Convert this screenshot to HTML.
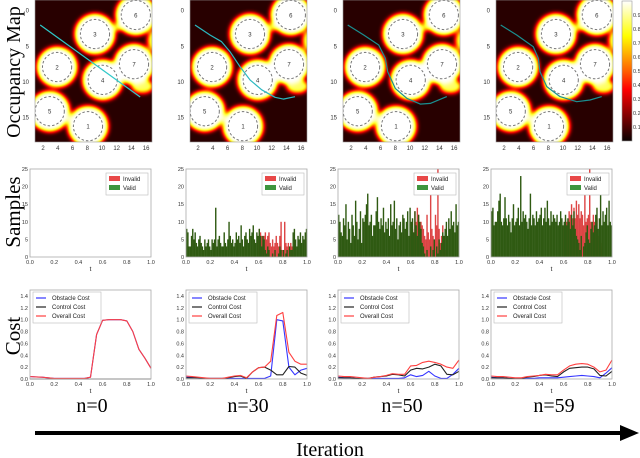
<!DOCTYPE html>
<html><head><meta charset="utf-8"><style>
body{margin:0;background:#fff}
svg{display:block;font-family:"Liberation Sans",sans-serif}
.serif{font-family:"Liberation Serif",serif}
</style></head><body>
<svg id="fig" width="640" height="458" viewBox="0 0 640 458" xmlns="http://www.w3.org/2000/svg">
<defs>
<filter id="hot" x="0" y="0" width="1" height="1" color-interpolation-filters="sRGB">
<feGaussianBlur stdDeviation="2.5"/>
<feComponentTransfer>
<feFuncR type="table" tableValues="0.06 0.37 0.71 1 1 1 1 1 1"/>
<feFuncG type="table" tableValues="0 0 0 0.05 0.38 0.71 1 1 1"/>
<feFuncB type="table" tableValues="0 0 0 0 0 0 0.17 0.58 1"/>
</feComponentTransfer>
</filter>
<linearGradient id="cbar" x1="0" y1="1" x2="0" y2="0">
<stop offset="0" stop-color="#0a0000"/><stop offset="0.37" stop-color="#ff0000"/>
<stop offset="0.5" stop-color="#ff6000"/><stop offset="0.75" stop-color="#ffff00"/>
<stop offset="1" stop-color="#ffffff"/>
</linearGradient>
</defs>
<text class="serif" transform="translate(20,72) rotate(-90)" text-anchor="middle" font-size="20">Occupancy Map</text>
<text class="serif" transform="translate(20,212) rotate(-90)" text-anchor="middle" font-size="21">Samples</text>
<text class="serif" transform="translate(20,336) rotate(-90)" text-anchor="middle" font-size="21">Cost</text>
<text class="serif" x="92" y="412" text-anchor="middle" font-size="20">n=0</text>
<text class="serif" x="248" y="412" text-anchor="middle" font-size="20">n=30</text>
<text class="serif" x="402" y="412" text-anchor="middle" font-size="20">n=50</text>
<text class="serif" x="554" y="412" text-anchor="middle" font-size="20">n=59</text>
<line x1="35" y1="433" x2="622" y2="433" stroke="#000" stroke-width="4"/>
<polygon points="620,425 639,433 620,441" fill="#000"/>
<text class="serif" x="330" y="456" text-anchor="middle" font-size="20">Iteration</text>
</svg>
<script>
const NS="http://www.w3.org/2000/svg";
const svg=document.getElementById('fig');
function mk(tag,attrs,parent){const e=document.createElementNS(NS,tag);for(const k in attrs)e.setAttribute(k,attrs[k]);(parent||svg).appendChild(e);return e;}

// ---------- data ----------
const obstacleIds=[1,2,3,4,5,6,7];
const obstacleX=[8.1,3.9,9.05,10.1,2.9,14.6,14.35];
const obstacleY=[16.2,7.9,3.27,9.7,14.1,0.6,7.5];
const obstacleR=2.0;
const pathX0=[1.6,15.2];
const pathY0=[2.0,12.1];
const pathX30=[1.58,3.62,5.2,6.33,7.7,9.05,10.64,12.45,13.58,15.17];
const pathY30=[2.0,3.41,4.35,5.75,7.85,9.7,11.1,12.15,12.4,12.06];
const pathX50=[1.54,3.71,5.75,6.65,6.97,8.0,9.6,11.4,12.76,15.0];
const pathY50=[2.0,3.41,4.81,6.68,8.55,10.9,12.3,13.1,13.0,12.05];
const pathX59=[1.54,3.71,5.97,6.65,6.88,7.8,9.6,11.87,13.67,15.26];
const pathY59=[2.0,3.41,5.05,6.68,8.55,10.65,12.05,12.76,12.52,12.05];
const mapXTicks=[2,4,6,8,10,12,14,16];
const mapYTicks=[0,5,10,15];
const cbarTicks=[0.1,0.2,0.3,0.4,0.5,0.6,0.7,0.8,0.9];

const validN0=new Array(100).fill(0);
const invalidN0=new Array(100).fill(0);
const validN30=[8,7,3,3,6,8,5,7,4,3,5,6,4,3,2,5,3,4,5,3,2,5,4,5,14,3,5,6,4,3,3,7,4,3,5,10,6,4,5,3,4,7,5,6,4,9,5,3,6,7,5,4,8,6,7,9,5,4,7,6,8,6,3,6,5,2,1,3,2,0,0,1,0,2,0,0,1,3,2,0,2,0,1,2,0,3,2,2,7,8,5,3,6,5,7,4,6,5,7,8];
const invalidN30=[0,0,0,0,0,0,0,0,0,0,0,0,0,0,0,0,0,0,0,0,0,0,0,0,0,0,0,0,0,0,0,0,0,0,0,0,0,0,0,0,0,0,0,0,0,0,0,0,0,0,0,0,0,0,0,0,0,0,0,0,8,7,6,5,6,7,5,6,7,4,3,5,3,4,6,4,3,6,10,2,2,10,4,3,4,3,4,3,3,0,0,0,0,0,0,0,0,0,0,0];
const validN50=[12,10,7,6,11,9,15,5,10,8,4,12,9,6,16,10,5,8,13,4,11,10,12,15,18,9,10,12,6,9,9,13,17,10,8,11,9,14,7,10,8,11,6,15,9,10,16,8,11,5,9,10,7,12,11,8,10,13,6,14,10,11,7,13,9,6,12,10,8,4,3,1,0,2,0,0,3,0,2,5,0,3,1,5,2,4,7,6,8,10,6,11,8,13,9,10,7,15,9,10];
const invalidN50=[0,0,0,0,0,0,0,0,0,0,0,0,0,0,0,0,0,0,0,0,0,0,0,0,0,0,0,0,0,0,0,0,0,0,0,0,0,0,0,0,0,0,0,0,0,0,0,0,0,0,0,0,0,0,0,0,0,0,0,0,6,8,7,13,10,14,12,8,10,9,8,6,5,12,7,5,20,8,6,5,12,9,25,8,4,6,9,3,2,1,0,0,0,0,0,0,0,0,0,0];
const validN59=[13,14,9,10,10,13,16,18,10,9,11,17,11,9,12,10,7,11,15,9,10,11,14,9,23,10,13,11,12,10,8,11,18,9,12,11,9,13,10,11,12,14,9,11,14,10,16,11,9,13,10,12,11,10,12,9,10,13,11,9,10,12,9,11,10,8,12,9,13,8,6,5,4,2,6,0,3,4,7,9,5,4,8,10,7,9,12,14,8,11,18,9,13,10,12,14,9,16,10,9];
const invalidN59=[0,0,0,0,0,0,0,0,0,0,0,0,0,0,0,0,0,0,0,0,0,0,0,0,0,0,0,0,0,0,0,0,0,0,0,0,0,0,0,0,0,0,0,0,0,0,0,0,0,0,0,0,0,0,0,0,0,0,0,0,9,11,10,10,13,12,15,11,14,11,16,12,15,11,13,12,9,20,10,11,12,25,10,9,12,10,8,11,6,5,4,3,0,0,0,0,0,0,0,0];
const sampleYTicks=[0,5,10,15,20,25];
const tTicks=[0,0.2,0.4,0.6,0.8,1.0];

const costT=[0,0.05,0.1,0.15,0.2,0.25,0.3,0.35,0.4,0.45,0.5,0.55,0.6,0.65,0.7,0.75,0.8,0.85,0.9,0.95,1.0];
const obstacleN0=[0.04,0.035,0.03,0.02,0.01,0.01,0.01,0.01,0.01,0.01,0.03,0.75,0.99,1.0,1.0,1.0,0.98,0.8,0.5,0.35,0.18];
const controlN0=[0,0,0,0,0,0,0,0,0,0,0,0,0,0,0,0,0,0,0,0,0];
const overallN0=[0.04,0.035,0.03,0.02,0.01,0.01,0.01,0.01,0.01,0.01,0.03,0.75,0.99,1.0,1.0,1.0,0.98,0.8,0.5,0.35,0.18];
const obstacleN30=[0.03,0.03,0.02,0.01,0.01,0.01,0.01,0.01,0.01,0.01,0.01,0.01,0.01,0.01,0.05,1.0,0.98,0.2,0.07,0.15,0.18];
const controlN30=[0.02,0.02,0.02,0.01,0.01,0.01,0.01,0.02,0.04,0.05,0.01,0.12,0.19,0.2,0.15,0.07,0.07,0.21,0.2,0.1,0.06];
const overallN30=[0.05,0.04,0.03,0.02,0.01,0.01,0.01,0.03,0.05,0.06,0.02,0.12,0.19,0.2,0.3,1.07,1.12,0.45,0.3,0.25,0.25];
const obstacleN50=[0.03,0.02,0.02,0.01,0.01,0.01,0.01,0.01,0.01,0.01,0.01,0.02,0.07,0.04,0.06,0.13,0.05,0.01,0.01,0.08,0.18];
const controlN50=[0.02,0.02,0.02,0.01,0.01,0.01,0.03,0.04,0.05,0.08,0.07,0.05,0.15,0.18,0.17,0.2,0.25,0.22,0.08,0.07,0.13];
const overallN50=[0.05,0.04,0.04,0.03,0.02,0.01,0.03,0.04,0.06,0.09,0.08,0.08,0.22,0.23,0.28,0.3,0.28,0.25,0.2,0.18,0.32];
const obstacleN59=[0.03,0.02,0.02,0.01,0.01,0.01,0.01,0.01,0.02,0.02,0.02,0.02,0.03,0.04,0.05,0.06,0.05,0.04,0.02,0.1,0.19];
const controlN59=[0.02,0.02,0.02,0.01,0.01,0.01,0.03,0.04,0.06,0.07,0.05,0.04,0.12,0.18,0.19,0.2,0.2,0.17,0.06,0.05,0.13];
const overallN59=[0.05,0.04,0.04,0.03,0.02,0.02,0.04,0.05,0.06,0.08,0.07,0.07,0.15,0.22,0.25,0.26,0.25,0.2,0.12,0.15,0.32];
const costYTicks=[0,0.2,0.4,0.6,0.8,1.0,1.2,1.4];

// ---------- layout ----------
const mapLefts=[35,190,343,496];
const mapW=117, mapH=142, mapTop=0;
const axLefts=[30,186,338,491];
const axW=121;
const sTop=169, sBot=257;
const cTop=290, cBot=379;
const pathsX=[pathX0,pathX30,pathX50,pathX59];
const pathsY=[pathY0,pathY30,pathY50,pathY59];
const pathColors=["#2ec8c8","#2ab8c0","#1a8f90","#1a8f90"];
const valids=[validN0,validN30,validN50,validN59];
const invalids=[invalidN0,invalidN30,invalidN50,invalidN59];
const obst=[obstacleN0,obstacleN30,obstacleN50,obstacleN59];
const ctrl=[controlN0,controlN30,controlN50,controlN59];
const over=[overallN0,overallN30,overallN50,overallN59];
const tick='#333';

for(let p=0;p<4;p++){
  const L=mapLefts[p];
  const mx=u=>L+(u-0.9)*7.36;
  const my=v=>mapTop+(v+1.5)*7.13;
  const clip=mk('clipPath',{id:'mc'+p});
  mk('rect',{x:L,y:mapTop,width:mapW,height:mapH},clip);
  const outer=mk('g',{'clip-path':'url(#mc'+p+')'});
  
  
  const g=mk('g',{filter:'url(#hot)'},outer);
  mk('rect',{x:L-10,y:mapTop-10,width:mapW+20,height:mapH+20,fill:'#0a0a0a'},g);
  mk('ellipse',{cx:mx(17.0),cy:my(4.2),rx:6,ry:10,fill:'#d0d0d0'},g);
  mk('ellipse',{cx:mx(12.2),cy:my(2.2),rx:4,ry:5,fill:'#b0b0b0'},g);
  mk('ellipse',{cx:mx(15.5),cy:my(10.6),rx:11,ry:7,fill:'#d0d0d0'},g);
  for(let i=0;i<obstacleIds.length;i++){
    mk('circle',{cx:mx(obstacleX[i]),cy:my(obstacleY[i]),r:20.5,fill:'#fff'},g);
  }
  for(let i=0;i<obstacleIds.length;i++){
    const c=mk('circle',{cx:mx(obstacleX[i]),cy:my(obstacleY[i]),r:obstacleR*7.3,fill:'none',stroke:'#777','stroke-width':1,'stroke-dasharray':'2.5,2'},outer);
    
    
    const t=mk('text',{x:mx(obstacleX[i]),y:my(obstacleY[i])+2.5,'text-anchor':'middle','font-size':6,fill:'#333'},outer);
    t.textContent=obstacleIds[i];
    
    
  }
  let d='';
  for(let i=0;i<pathsX[p].length;i++) d+=(i?'L':'M')+mx(pathsX[p][i]).toFixed(1)+','+my(pathsY[p][i]).toFixed(1);
  const pa=mk('path',{d:d,fill:'none',stroke:pathColors[p],'stroke-width':1.2,'stroke-linejoin':'round'},outer);
  
  
  mk('rect',{x:L,y:mapTop,width:mapW,height:mapH,fill:'none',stroke:'#999','stroke-width':0.6});
  for(const v of mapXTicks){const t=mk('text',{x:mx(v),y:150,'text-anchor':'middle','font-size':6,fill:tick});t.textContent=v;
    
    }
  for(const v of mapYTicks){const t=mk('text',{x:L-6,y:my(v)+2,'text-anchor':'end','font-size':6,fill:tick});t.textContent=v;
    
    }

  // ---------- samples ----------
  const A=axLefts[p];
  const sx=t=>A+t*axW;
  const sy=v=>sBot-v/25*(sBot-sTop);
  const sg=mk('g',{});
  
  
  const n=valids[p].length, bw=axW/n;
  for(let i=0;i<n;i++){
    if(invalids[p][i]>0){const r=mk('rect',{x:sx(i/n),y:sy(invalids[p][i]),width:bw+0.2,height:sBot-sy(invalids[p][i]),fill:'#dd4545'},sg);
      
      }
  }
  for(let i=0;i<n;i++){
    if(valids[p][i]>0){const r=mk('rect',{x:sx(i/n),y:sy(valids[p][i]),width:bw+0.2,height:sBot-sy(valids[p][i]),fill:'#2f5a12'},sg);
      
      }
  }
  mk('rect',{x:A,y:sTop,width:axW,height:sBot-sTop,fill:'none',stroke:'#aaa','stroke-width':0.8});
  for(const v of sampleYTicks){const t=mk('text',{x:A-2,y:sy(v)+2,'text-anchor':'end','font-size':5.5,fill:tick});t.textContent=v;
    
    }
  for(const v of tTicks){const t=mk('text',{x:sx(v),y:sBot+7,'text-anchor':'middle','font-size':5.5,fill:tick});t.textContent=v.toFixed(1);
    
    }
  const st=mk('text',{x:A+axW/2,y:sBot+14,'text-anchor':'middle','font-size':6.5,fill:'#222'});st.textContent='t';
  
  
  const lg=mk('g',{});
  
  
  const lx=A+axW-45;
  mk('rect',{x:lx,y:sTop+4,width:42,height:22,fill:'#fff',stroke:'#bbb','stroke-width':0.6},lg);
  mk('rect',{x:lx+3,y:sTop+7,width:11,height:5,fill:'#e84848'},lg);
  mk('rect',{x:lx+3,y:sTop+16,width:11,height:5,fill:'#3e953e'},lg);
  let t1=mk('text',{x:lx+17,y:sTop+12,'font-size':6,fill:'#222'},lg);t1.textContent='Invalid';
  let t2=mk('text',{x:lx+17,y:sTop+21,'font-size':6,fill:'#222'},lg);t2.textContent='Valid';

  // ---------- cost ----------
  const cy=v=>cBot-v/1.5*(cBot-cTop);
  const cg=mk('g',{});
  
  
  const series=[[obst[p],'#3535ff','obstacle-cost-line'],[ctrl[p],'#222','control-cost-line'],[over[p],'#ff4040','overall-cost-line']];
  for(const [vals,col,name] of series){
    let dd='';
    for(let i=0;i<costT.length;i++) dd+=(i?'L':'M')+sx(costT[i]).toFixed(1)+','+cy(vals[i]).toFixed(1);
    const ln=mk('path',{d:dd,fill:'none',stroke:col,'stroke-width':1.1,'stroke-linejoin':'round'},cg);
    
    
  }
  mk('rect',{x:A,y:cTop,width:axW,height:cBot-cTop,fill:'none',stroke:'#aaa','stroke-width':0.8});
  for(const v of costYTicks){const t=mk('text',{x:A-2,y:cy(v)+2,'text-anchor':'end','font-size':5.5,fill:tick});t.textContent=v.toFixed(1);
    
    }
  for(const v of tTicks){const t=mk('text',{x:sx(v),y:cBot+7,'text-anchor':'middle','font-size':5.5,fill:tick});t.textContent=v.toFixed(1);
    
    }
  const ct=mk('text',{x:A+axW/2,y:cBot+14,'text-anchor':'middle','font-size':6.5,fill:'#222'});ct.textContent='t';
  
  
  const cl=mk('g',{});
  
  
  mk('rect',{x:A+3,y:cTop+2,width:68,height:31,fill:'#fff',stroke:'#bbb','stroke-width':0.6},cl);
  const labs=['Obstacle Cost','Control Cost','Overall Cost'];
  for(let i=0;i<3;i++){
    mk('line',{x1:A+6,x2:A+16,y1:cTop+8+i*9,y2:cTop+8+i*9,stroke:series[i][1],'stroke-width':1.2},cl);
    const tt=mk('text',{x:A+22,y:cTop+10+i*9,'font-size':6,fill:'#222'},cl);tt.textContent=labs[i];
  }
}
// colorbar
const cb=mk('rect',{x:622,y:1,width:10,height:140,fill:'url(#cbar)',stroke:'#999','stroke-width':0.6});


for(const v of cbarTicks){const t=mk('text',{x:633,y:141-v*140+2,'font-size':5.5,fill:tick});t.textContent=v.toFixed(1);
  
  }
</script>
</body></html>
